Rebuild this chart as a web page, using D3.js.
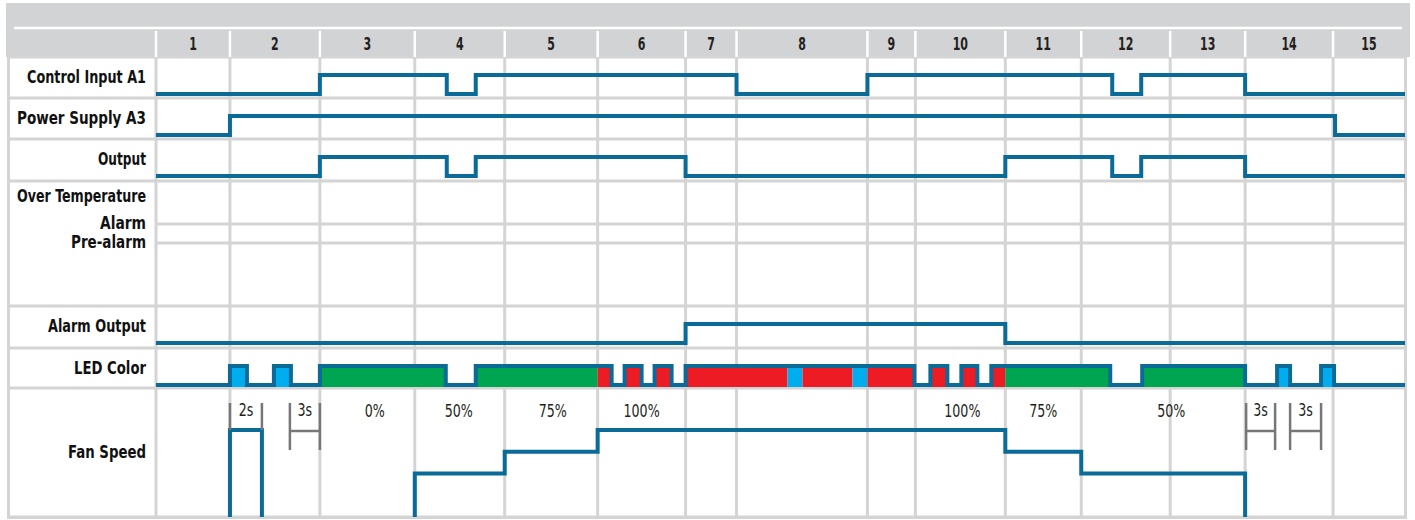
<!DOCTYPE html>
<html>
<head>
<meta charset="utf-8">
<script src="https://cdn.jsdelivr.net/npm/d3@7"></script>
<style>
  body { margin: 0; background: #fff; }
  svg { display: block; }
  text { font-family: "DejaVu Sans Condensed", "DejaVu Sans", "Liberation Sans", sans-serif; font-stretch: condensed; }
</style>
</head>
<body>
<div id="chart"></div>
<script>
// column boundaries (time units) and header labels
var columnBounds = [0, 7.4, 16.4, 25.9, 34.9, 44.2, 53.0, 58.1, 71.2, 76.0, 85.0, 92.6, 101.5, 109.0, 117.8, 125];
var columnLabels = ["1", "2", "3", "4", "5", "6", "7", "8", "9", "10", "11", "12", "13", "14", "15"];

// digital signals: [time, level]
var controlInput = [[0, 0], [16.4, 1], [29.1, 0], [32.0, 1], [58.1, 0], [71.2, 1], [95.7, 0], [98.6, 1], [109.0, 0], [125, 0]];
var powerSupply  = [[0, 0], [7.4, 1], [118.0, 0], [125, 0]];
var outputSig    = [[0, 0], [16.4, 1], [29.1, 0], [32.0, 1], [53.0, 0], [85.0, 1], [95.7, 0], [98.6, 1], [109.0, 0], [125, 0]];
var alarmOutput  = [[0, 0], [53.0, 1], [85.0, 0], [125, 0]];

// LED color segments: [start, end, color]
var ledSegments = [
  [7.4, 9.1, "blue"], [11.8, 13.5, "blue"],
  [16.4, 29.0, "green"],
  [32.0, 44.2, "green"], [44.2, 45.6, "red"],
  [46.9, 48.6, "red"], [49.9, 51.6, "red"],
  [53.0, 63.2, "red"], [63.2, 64.7, "blue"], [64.7, 69.7, "red"], [69.7, 71.2, "blue"], [71.2, 75.9, "red"],
  [77.5, 79.2, "red"], [80.6, 82.2, "red"],
  [83.6, 85.0, "red"], [85.0, 95.5, "green"],
  [98.7, 109.0, "green"],
  [112.2, 113.5, "blue"], [116.6, 117.9, "blue"]
];
var ledColors = { blue: "#00aeef", green: "#00a551", red: "#ed1c24" };

// fan speed: [time, percent]
var fanPulse = [[7.4, 0], [7.4, 100], [10.6, 0]];
var fanMain  = [[25.9, 0], [25.9, 50], [34.9, 75], [44.2, 100], [85.0, 75], [92.6, 50], [109.0, 0]];
var fanLabels = [["0%", 21.9], ["50%", 30.3], ["75%", 39.7], ["100%", 48.6], ["100%", 80.7], ["75%", 88.8], ["50%", 101.6]];
// timing brackets: [label, start, end, with bar]
var fanBrackets = [["2s", 7.4, 10.6, false], ["3s", 13.4, 16.4, true], ["3s", 109.1, 112.0, true], ["3s", 113.5, 116.6, true]];

var rowLabels = ["Control Input A1", "Power Supply A3", "Output", "Alarm Output", "LED Color", "Fan Speed"];
var overTempLabels = ["Over Temperature", "Alarm", "Pre-alarm"];

var W = 1415, H = 520;
var gridColor = "#d4d4d4", lineColor = "#0a6a98", headColor = "#d1d3d4";
// label widths as measured on the original (condensed face)
var labelWidth = {
  "Control Input A1": 119, "Power Supply A3": 129, "Output": 48, "Over Temperature": 129,
  "Alarm": 46, "Pre-alarm": 75, "Alarm Output": 98, "LED Color": 72, "Fan Speed": 78
};

var svg = d3.select("#chart").append("svg").attr("width", W).attr("height", H);

var x = d3.scaleLinear().domain([0, 125]).range([156, 1405]);

function condense(sel, factor) {
  sel.each(function () {
    var w = this.getComputedTextLength();
    d3.select(this).attr("textLength", w * factor).attr("lengthAdjust", "spacingAndGlyphs");
  });
}

// row layout
var rows = [
  { label: rowLabels[0], top: 57, bottom: 98, data: controlInput },
  { label: rowLabels[1], top: 98, bottom: 139, data: powerSupply },
  { label: rowLabels[2], top: 139, bottom: 181, data: outputSig },
  { label: null, top: 181, bottom: 306 },
  { label: rowLabels[3], top: 306, bottom: 348, data: alarmOutput },
  { label: rowLabels[4], top: 348, bottom: 388 },
  { label: rowLabels[5], top: 388, bottom: 517 }
];

// top band + header
svg.append("rect").attr("x", 6).attr("y", 3).attr("width", 1404).attr("height", 54).attr("fill", headColor);
svg.append("line").attr("x1", 14).attr("x2", 1402).attr("y1", 28).attr("y2", 28)
  .attr("stroke", "#fff").attr("stroke-width", 2.5);

// frame
svg.append("rect").attr("x", 8.5).attr("y", 57).attr("width", 1397).attr("height", 460.5)
  .attr("fill", "none").attr("stroke", gridColor).attr("stroke-width", 3);

// header separators and column grid
var grid = svg.append("g");
columnBounds.slice(0, -1).forEach(function (c) {
  grid.append("line").attr("x1", x(c)).attr("x2", x(c)).attr("y1", 31).attr("y2", 57)
    .attr("stroke", "#fff").attr("stroke-width", 2.5);
  grid.append("line").attr("x1", x(c)).attr("x2", x(c)).attr("y1", 57).attr("y2", 517)
    .attr("stroke", gridColor).attr("stroke-width", 3);
});
var heads = svg.append("g").selectAll("text").data(columnLabels).enter().append("text")
  .attr("x", function (l, i) { return (x(columnBounds[i]) + x(columnBounds[i + 1])) / 2; })
  .attr("y", 50)
  .attr("text-anchor", "middle")
  .attr("font-size", "17px").attr("font-weight", "bold").attr("fill", "#231f20")
  .text(function (l) { return l; });
condense(heads, 0.72);

// row separators
rows.forEach(function (r) {
  svg.append("line").attr("x1", 10).attr("x2", 1405).attr("y1", r.bottom).attr("y2", r.bottom)
    .attr("stroke", gridColor).attr("stroke-width", 3);
});
// alarm / pre-alarm sub lines
[224, 243].forEach(function (yy) {
  svg.append("line").attr("x1", 156).attr("x2", 1405).attr("y1", yy).attr("y2", yy)
    .attr("stroke", gridColor).attr("stroke-width", 3);
});

// row labels
function label(txt, yy) {
  svg.append("text").attr("x", 146).attr("y", yy).attr("text-anchor", "end")
    .attr("font-size", "18.5px").attr("font-weight", "bold").attr("fill", "#111")
    .attr("textLength", labelWidth[txt]).attr("lengthAdjust", "spacingAndGlyphs")
    .text(txt);
}
rows.forEach(function (r) {
  if (r.label && r.label !== "Fan Speed") label(r.label, r.top + 26);
});
label(rowLabels[5], 458);
label(overTempLabels[0], 202);
label(overTempLabels[1], 229);
label(overTempLabels[2], 248);

// digital signals
var stepLine = function (yScale) {
  return d3.line()
    .x(function (d) { return x(d[0]); })
    .y(function (d) { return yScale(d[1]); })
    .curve(d3.curveStepAfter);
};
rows.forEach(function (r) {
  if (!r.data) return;
  var y = d3.scaleLinear().domain([0, 1]).range([r.top + 37, r.top + 18]);
  svg.append("path").datum(r.data)
    .attr("d", stepLine(y))
    .attr("fill", "none").attr("stroke", lineColor).attr("stroke-width", 4);
});

// LED color row
var ledRow = rows[5];
var ledY = d3.scaleLinear().domain([0, 1]).range([ledRow.top + 37, ledRow.top + 18]);
svg.append("g").selectAll("rect").data(ledSegments).enter().append("rect")
  .attr("x", function (d) { return x(d[0]); })
  .attr("width", function (d) { return x(d[1]) - x(d[0]); })
  .attr("y", ledY(1))
  .attr("height", ledY(0) - ledY(1) + 2)
  .attr("fill", function (d) { return ledColors[d[2]]; });

// merge touching segments into on-intervals for the outline
var ledOn = [];
ledSegments.forEach(function (s) {
  var last = ledOn[ledOn.length - 1];
  if (last && Math.abs(last[1] - s[0]) < 0.01) last[1] = s[1];
  else ledOn.push([s[0], s[1]]);
});
var ledPts = [[0, 0]];
ledOn.forEach(function (s) { ledPts.push([s[0], 1]); ledPts.push([s[1], 0]); });
ledPts.push([125, 0]);
svg.append("path").datum(ledPts)
  .attr("d", stepLine(ledY))
  .attr("fill", "none").attr("stroke", lineColor).attr("stroke-width", 4);

// fan speed
var fanY = d3.scaleLinear().domain([0, 100]).range([517, 430]);
[fanPulse, fanMain].forEach(function (seg) {
  svg.append("path").datum(seg)
    .attr("d", stepLine(fanY))
    .attr("fill", "none").attr("stroke", lineColor).attr("stroke-width", 4);
});

var pct = svg.append("g").selectAll("text").data(fanLabels).enter().append("text")
  .attr("x", function (f) { return x(f[1]); }).attr("y", 417).attr("text-anchor", "middle")
  .attr("font-size", "18px").attr("fill", "#231f20").text(function (f) { return f[0]; });
condense(pct, 0.78);

var br = svg.append("g").attr("stroke", "#777").attr("stroke-width", 2.5);
fanBrackets.forEach(function (b) {
  var bottom = b[3] ? 450 : 430;
  br.append("line").attr("x1", x(b[1])).attr("x2", x(b[1])).attr("y1", 403).attr("y2", bottom);
  br.append("line").attr("x1", x(b[2])).attr("x2", x(b[2])).attr("y1", 403).attr("y2", bottom);
  if (b[3]) br.append("line").attr("x1", x(b[1])).attr("x2", x(b[2])).attr("y1", 431).attr("y2", 431);
  var t = svg.append("text").attr("x", (x(b[1]) + x(b[2])) / 2).attr("y", 416).attr("text-anchor", "middle")
    .attr("font-size", "17.5px").attr("fill", "#231f20").text(b[0]);
  condense(t, 0.8);
});
</script>
</body>
</html>
